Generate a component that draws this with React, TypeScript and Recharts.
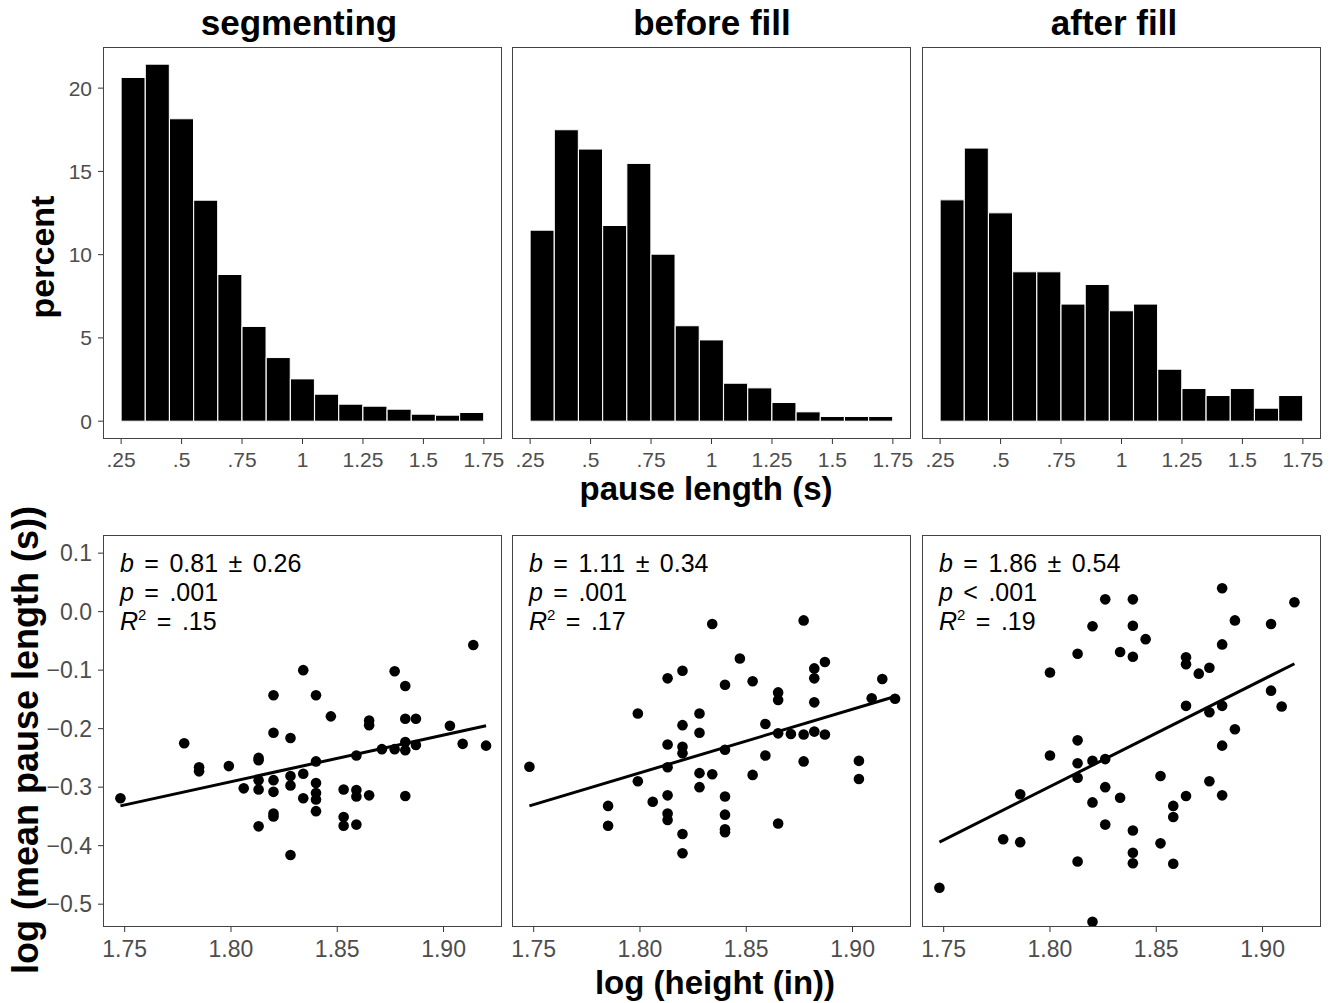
import React from 'react';
import { BarChart, Bar, ScatterChart, Scatter, XAxis, YAxis } from 'recharts';

// histogram bins (centres, width .1)
const BIN_MIDS = [0.3, 0.4, 0.5, 0.6, 0.7, 0.8, 0.9, 1.0, 1.1, 1.2, 1.3, 1.4, 1.5, 1.6, 1.7];
const SEGMENTING = [20.64, 21.44, 18.16, 13.27, 8.81, 5.69, 3.82, 2.54, 1.62, 1.02, 0.9, 0.72, 0.42, 0.36, 0.52];
const BEFORE_FILL = [11.47, 17.5, 16.34, 11.75, 15.48, 10.03, 5.73, 4.88, 2.28, 2.0, 1.12, 0.56, 0.28, 0.28, 0.28];
const AFTER_FILL = [13.29, 16.4, 12.51, 8.97, 8.97, 7.03, 8.21, 6.63, 7.03, 3.12, 1.96, 1.54, 1.96, 0.78, 1.54];

const HIST_TICKS = [0.25, 0.5, 0.75, 1, 1.25, 1.5, 1.75];
const PCT_TICKS = [0, 5, 10, 15, 20];
const HEIGHT_TICKS = [1.75, 1.8, 1.85, 1.9];
const PAUSE_TICKS = [0.1, 0, -0.1, -0.2, -0.3, -0.4, -0.5];

// [log height, log mean pause]
const SEG_POINTS: [number, number][] = [
  [1.748, -0.319], [1.778, -0.225], [1.785, -0.266], [1.785, -0.273], [1.799, -0.264], [1.806, -0.302],
  [1.813, -0.25], [1.813, -0.254], [1.813, -0.288], [1.813, -0.304], [1.813, -0.367], [1.82, -0.143],
  [1.82, -0.207], [1.82, -0.288], [1.82, -0.308], [1.82, -0.345], [1.82, -0.35], [1.828, -0.216],
  [1.828, -0.281], [1.828, -0.297], [1.828, -0.416], [1.834, -0.1], [1.834, -0.277], [1.834, -0.319],
  [1.84, -0.143], [1.84, -0.256], [1.84, -0.293], [1.84, -0.31], [1.84, -0.321], [1.84, -0.341],
  [1.847, -0.179], [1.853, -0.304], [1.853, -0.351], [1.853, -0.366], [1.859, -0.246], [1.859, -0.305],
  [1.859, -0.316], [1.859, -0.364], [1.865, -0.186], [1.865, -0.194], [1.865, -0.314], [1.871, -0.235],
  [1.877, -0.102], [1.877, -0.235], [1.882, -0.127], [1.882, -0.183], [1.882, -0.223], [1.882, -0.237],
  [1.882, -0.315], [1.887, -0.183], [1.887, -0.228], [1.903, -0.195], [1.909, -0.226], [1.914, -0.057],
  [1.92, -0.229],
];
const BEFORE_POINTS: [number, number][] = [
  [1.748, -0.265], [1.785, -0.332], [1.785, -0.366], [1.799, -0.174], [1.799, -0.29], [1.806, -0.325],
  [1.813, -0.114], [1.813, -0.227], [1.813, -0.266], [1.813, -0.314], [1.813, -0.345], [1.813, -0.356],
  [1.82, -0.101], [1.82, -0.194], [1.82, -0.231], [1.82, -0.242], [1.82, -0.38], [1.82, -0.413],
  [1.828, -0.174], [1.828, -0.207], [1.828, -0.276], [1.828, -0.3], [1.834, -0.021], [1.834, -0.278],
  [1.84, -0.125], [1.84, -0.236], [1.84, -0.316], [1.84, -0.347], [1.84, -0.372], [1.84, -0.377],
  [1.847, -0.08], [1.853, -0.119], [1.853, -0.279], [1.859, -0.192], [1.859, -0.246], [1.865, -0.138],
  [1.865, -0.151], [1.865, -0.208], [1.865, -0.362], [1.871, -0.209], [1.877, -0.015], [1.877, -0.21],
  [1.877, -0.256], [1.882, -0.097], [1.882, -0.114], [1.882, -0.155], [1.882, -0.205], [1.887, -0.086],
  [1.887, -0.21], [1.903, -0.255], [1.903, -0.286], [1.909, -0.148], [1.914, -0.115], [1.92, -0.149],
];
const AFTER_POINTS: [number, number][] = [
  [1.748, -0.472], [1.778, -0.389], [1.786, -0.394], [1.786, -0.312], [1.8, -0.104], [1.8, -0.246],
  [1.813, -0.072], [1.813, -0.22], [1.813, -0.259], [1.813, -0.284], [1.813, -0.427], [1.82, -0.025],
  [1.82, -0.255], [1.82, -0.326], [1.82, -0.53], [1.826, 0.021], [1.826, -0.252], [1.826, -0.3],
  [1.826, -0.364], [1.833, -0.069], [1.833, -0.318], [1.839, 0.021], [1.839, -0.024], [1.839, -0.077],
  [1.839, -0.374], [1.839, -0.412], [1.839, -0.43], [1.845, -0.047], [1.852, -0.281], [1.852, -0.396],
  [1.858, -0.332], [1.858, -0.351], [1.858, -0.431], [1.864, -0.078], [1.864, -0.09], [1.864, -0.161],
  [1.864, -0.315], [1.87, -0.106], [1.875, -0.096], [1.875, -0.172], [1.875, -0.29], [1.881, 0.04],
  [1.881, -0.056], [1.881, -0.161], [1.881, -0.229], [1.881, -0.314], [1.887, -0.015], [1.887, -0.201],
  [1.904, -0.021], [1.904, -0.135], [1.909, -0.162], [1.915, 0.016],
];

// regression line end points
const SEG_FIT: [number, number][] = [[1.748, -0.332], [1.92, -0.195]];
const BEFORE_FIT: [number, number][] = [[1.748, -0.332], [1.92, -0.145]];
const AFTER_FIT: [number, number][] = [[1.748, -0.394], [1.915, -0.089]];

const TITLES = ['segmenting', 'before fill', 'after fill'];
const STATS = [
  { b: '0.81 ± 0.26', p: '= .001', r2: '.15' },
  { b: '1.11 ± 0.34', p: '= .001', r2: '.17' },
  { b: '1.86 ± 0.54', p: '< .001', r2: '.19' },
];

const FONT = '"Liberation Sans", Arial, Helvetica, sans-serif';
const COL_LEFT = [103, 512, 922];
const TITLE_X = [299, 712, 1114];
const BOX_W = 399;
const BOX_H = 392;
const TOP_Y = 47;
const BOTTOM_Y = 535;
const Y_W = 100;
const X_H = 50;
const RIGHT_PAD = 30;

const fmtHist = (v: number) => (v < 1 ? String(v).replace(/^0/, '') : String(v));
const fmtPause = (v: number) => (v < 0 ? '\u2212' : '') + Math.abs(v).toFixed(1);
const fmtHeight = (v: number) => v.toFixed(2);

const Frame = ({ left }: { left: number }) => (
  <div
    style={{
      position: 'absolute', left, top: 0, width: BOX_W, height: BOX_H,
      border: '1.4px solid #444', boxSizing: 'border-box', pointerEvents: 'none',
    }}
  />
);

const HistPanel = ({ values, col }: { values: number[]; col: number }) => {
  const showY = col === 0;
  const yw = showY ? Y_W : 0;
  const data = BIN_MIDS.map((x, i) => ({ x, pct: values[i] }));
  return (
    <div style={{ position: 'absolute', left: COL_LEFT[col] - yw, top: TOP_Y }}>
      <BarChart
        width={yw + BOX_W + RIGHT_PAD}
        height={BOX_H + X_H}
        data={data}
        margin={{ top: 0, right: RIGHT_PAD, bottom: 0, left: 0 }}
        barCategoryGap={0}
        barGap={0}
      >
        <XAxis
          dataKey="x" type="number" domain={[0.175, 1.825]} allowDataOverflow
          ticks={HIST_TICKS} interval={0} tickFormatter={fmtHist}
          axisLine={false} tickLine={{ stroke: '#333' }} tickSize={5} tickMargin={8}
          tick={{ fill: '#4d4d4d', fontSize: 21 }} height={X_H}
        />
        <YAxis
          type="number" domain={[-1.07, 22.47]} allowDataOverflow ticks={PCT_TICKS} interval={0}
          hide={!showY} width={Y_W} axisLine={false} tickLine={{ stroke: '#333' }} tickSize={5} tickMargin={6}
          tick={{ fill: '#4d4d4d', fontSize: 21 }}
        />
        <Bar dataKey="pct" fill="#000" stroke="#fff" strokeWidth={1} isAnimationActive={false} />
      </BarChart>
      <Frame left={yw} />
    </div>
  );
};

const Dot = (props: any) => <circle cx={props.cx} cy={props.cy} r={5.3} fill="#000" />;
const NoDot = () => <g />;

const ScatterPanel = ({ points, fit, col }: { points: [number, number][]; fit: [number, number][]; col: number }) => {
  const showY = col === 0;
  const yw = showY ? Y_W : 0;
  const pts = points.map(([x, y]) => ({ x, y }));
  const line = fit.map(([x, y]) => ({ x, y }));
  return (
    <div style={{ position: 'absolute', left: COL_LEFT[col] - yw, top: BOTTOM_Y }}>
      <ScatterChart
        width={yw + BOX_W + RIGHT_PAD}
        height={BOX_H + X_H}
        margin={{ top: 0, right: RIGHT_PAD, bottom: 0, left: 0 }}
      >
        <XAxis
          dataKey="x" type="number" domain={[1.7398, 1.9275]} allowDataOverflow
          ticks={HEIGHT_TICKS} interval={0} tickFormatter={fmtHeight}
          axisLine={false} tickLine={{ stroke: '#333' }} tickSize={5} tickMargin={9}
          tick={{ fill: '#4d4d4d', fontSize: 23 }} height={X_H}
        />
        <YAxis
          dataKey="y" type="number" domain={[-0.539, 0.131]} allowDataOverflow
          ticks={PAUSE_TICKS} interval={0} tickFormatter={fmtPause}
          hide={!showY} width={Y_W} axisLine={false} tickLine={{ stroke: '#333' }} tickSize={5} tickMargin={6}
          tick={{ fill: '#4d4d4d', fontSize: 23 }}
        />
        <Scatter data={pts} shape={Dot} isAnimationActive={false} />
        <Scatter data={line} shape={NoDot} line={{ stroke: '#000', strokeWidth: 3 }} isAnimationActive={false} />
      </ScatterChart>
      <Frame left={yw} />
    </div>
  );
};

const App = () => (
  <div style={{ position: 'absolute', left: 0, top: 0, width: 1338, height: 1003, background: '#fff', fontFamily: FONT }}>
    <HistPanel values={SEGMENTING} col={0} />
    <HistPanel values={BEFORE_FILL} col={1} />
    <HistPanel values={AFTER_FILL} col={2} />
    <ScatterPanel points={SEG_POINTS} fit={SEG_FIT} col={0} />
    <ScatterPanel points={BEFORE_POINTS} fit={BEFORE_FIT} col={1} />
    <ScatterPanel points={AFTER_POINTS} fit={AFTER_FIT} col={2} />

    <svg
      width={1338}
      height={1003}
      style={{ position: 'absolute', left: 0, top: 0, pointerEvents: 'none', fontFamily: FONT }}
    >
      {TITLES.map((t, i) => (
        <text key={t} x={TITLE_X[i]} y={35} textAnchor="middle" fontSize={35} fontWeight="bold" fill="#000">{t}</text>
      ))}
      <text x={706} y={500} textAnchor="middle" fontSize={33} fontWeight="bold" fill="#000">pause length (s)</text>
      <text x={715} y={994} textAnchor="middle" fontSize={33} fontWeight="bold" fill="#000">log (height (in))</text>
      <text transform="translate(54,257) rotate(-90)" textAnchor="middle" fontSize={34} fontWeight="bold" fill="#000">percent</text>
      <text transform="translate(38,740) rotate(-90)" textAnchor="middle" fontSize={36} fontWeight="bold" fill="#000">
        log (mean pause length (s))
      </text>
      {STATS.map((s, i) => {
        const x = COL_LEFT[i] + 17;
        return (
          <g key={i} fontSize={25} fill="#000" style={{ wordSpacing: 3.5 }}>
            <text x={x} y={572}>
              <tspan fontStyle="italic">b</tspan> = {s.b}
            </text>
            <text x={x} y={601}>
              <tspan fontStyle="italic">p</tspan> {s.p}
            </text>
            <text x={x} y={630}>
              <tspan fontStyle="italic">R</tspan>
              <tspan fontSize={15} dy={-10}>2</tspan>
              <tspan dy={10}> = {s.r2}</tspan>
            </text>
          </g>
        );
      })}
    </svg>
  </div>
);

export default App;
